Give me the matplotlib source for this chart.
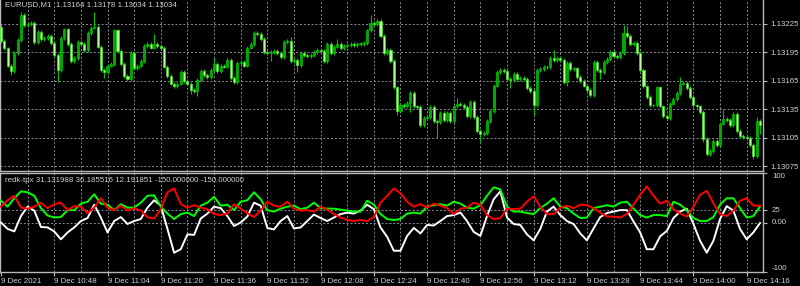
import matplotlib
matplotlib.use("Agg")
import matplotlib.pyplot as plt
import numpy as np

plt.rcParams['font.family'] = ['Liberation Sans', 'DejaVu Sans']

# EURUSD M1 closes, one per bar (bar 0 = 9 Dec 10:32)
closes = [
    1.13207, 1.13199, 1.13181, 1.13175, 1.13194, 1.13208, 1.13234, 1.13224, 1.13225, 1.13226,
    1.13206, 1.13216, 1.13209, 1.13210, 1.13212, 1.13205, 1.13192, 1.13176, 1.13210, 1.13219,
    1.13204, 1.13186, 1.13189, 1.13206, 1.13204, 1.13197, 1.13215, 1.13221, 1.13222, 1.13201,
    1.13176, 1.13174, 1.13181, 1.13183, 1.13218, 1.13196, 1.13183, 1.13170, 1.13167, 1.13194,
    1.13178, 1.13181, 1.13186, 1.13202, 1.13204, 1.13200, 1.13204, 1.13202, 1.13200, 1.13180,
    1.13170, 1.13162, 1.13159, 1.13162, 1.13174, 1.13165, 1.13162, 1.13155, 1.13154, 1.13166,
    1.13175, 1.13171, 1.13169, 1.13176, 1.13183, 1.13175, 1.13181, 1.13180, 1.13187, 1.13168,
    1.13164, 1.13184, 1.13185, 1.13181, 1.13200, 1.13204, 1.13215, 1.13214, 1.13209, 1.13195,
    1.13194, 1.13195, 1.13196, 1.13194, 1.13190, 1.13206, 1.13207, 1.13186, 1.13187, 1.13182,
    1.13194, 1.13192, 1.13191, 1.13192, 1.13195, 1.13197, 1.13196, 1.13186, 1.13204, 1.13194,
    1.13201, 1.13204, 1.13199, 1.13202, 1.13203, 1.13204, 1.13203, 1.13204, 1.13204, 1.13205,
    1.13218, 1.13226, 1.13225, 1.13228, 1.13212, 1.13194, 1.13197, 1.13186, 1.13158, 1.13133,
    1.13140, 1.13138, 1.13142, 1.13152, 1.13138, 1.13137, 1.13118, 1.13126, 1.13127, 1.13137,
    1.13123, 1.13122, 1.13131, 1.13124, 1.13131, 1.13123, 1.13138, 1.13141, 1.13140, 1.13137,
    1.13128, 1.13143, 1.13127, 1.13112, 1.13109, 1.13110, 1.13123, 1.13133, 1.13160, 1.13174,
    1.13176, 1.13175, 1.13167, 1.13166, 1.13172, 1.13167, 1.13168, 1.13167, 1.13157, 1.13154,
    1.13139, 1.13176, 1.13177, 1.13180, 1.13179, 1.13189, 1.13187, 1.13189, 1.13187, 1.13164,
    1.13184, 1.13177, 1.13178, 1.13169, 1.13165, 1.13160, 1.13155, 1.13150, 1.13185, 1.13176,
    1.13174, 1.13185, 1.13188, 1.13195, 1.13191, 1.13190, 1.13194, 1.13215, 1.13212, 1.13204,
    1.13205, 1.13194, 1.13176, 1.13159, 1.13148, 1.13139, 1.13139, 1.13158, 1.13138, 1.13128,
    1.13126, 1.13141, 1.13146, 1.13152, 1.13162, 1.13163, 1.13157, 1.13148, 1.13139, 1.13138,
    1.13132, 1.13104, 1.13088, 1.13091, 1.13102, 1.13097, 1.13120, 1.13125, 1.13124, 1.13118,
    1.13130, 1.13112, 1.13107, 1.13106, 1.13105, 1.13097, 1.13086, 1.13123, 1.13118,
]
first_open = 1.13222

# wick length beyond the body, in points
hi_wick = [
    3, 2, 2, 2, 2, 2, 3, 2, 2, 2,  2, 2, 2, 2, 2, 2, 2, 2, 2, 2,
    2, 2, 2, 2, 2, 2, 2, 2, 15, 2,  2, 2, 2, 2, 2, 2, 2, 2, 2, 2,
    2, 2, 2, 2, 2, 2, 10, 2, 2, 2,  2, 2, 2, 2, 2, 2, 2, 2, 2, 2,
    2, 2, 2, 2, 6, 2, 2, 2, 2, 2,  2, 2, 2, 2, 2, 2, 2, 2, 2, 2,
    2, 2, 2, 2, 2, 2, 2, 4, 2, 2,  2, 2, 2, 2, 2, 2, 2, 2, 2, 2,
    2, 5, 2, 2, 2, 2, 2, 2, 2, 2,  2, 8, 2, 2, 2, 2, 2, 2, 2, 2,
    2, 2, 2, 2, 2, 2, 2, 2, 2, 2,  2, 2, 2, 2, 2, 2, 2, 6, 2, 2,
    2, 2, 2, 2, 2, 2, 2, 2, 2, 2,  2, 2, 2, 2, 2, 2, 2, 2, 2, 2,
    2, 2, 2, 2, 2, 2, 8, 2, 2, 2,  2, 2, 2, 2, 2, 2, 2, 2, 2, 2,
    2, 2, 2, 2, 2, 2, 2, 9, 8, 2,  2, 2, 2, 2, 2, 2, 2, 2, 2, 2,
    2, 2, 2, 2, 7, 2, 2, 2, 2, 2,  2, 2, 2, 2, 2, 2, 2, 10, 2, 2,
    2, 2, 2, 2, 2, 2, 2, 4, 2,
]
lo_wick = [
    2, 2, 2, 4, 2, 2, 2, 2, 2, 2,  2, 2, 2, 2, 2, 2, 2, 12, 2, 2,
    2, 2, 2, 2, 2, 2, 2, 2, 2, 2,  2, 6, 2, 2, 2, 2, 2, 2, 2, 2,
    2, 2, 2, 2, 2, 2, 2, 2, 2, 2,  2, 2, 2, 2, 2, 2, 2, 4, 2, 5,
    2, 2, 2, 2, 2, 2, 2, 2, 2, 2,  2, 2, 2, 2, 2, 2, 2, 2, 2, 2,
    2, 8, 2, 2, 2, 2, 2, 2, 2, 8,  2, 2, 2, 2, 2, 2, 2, 2, 2, 2,
    2, 2, 2, 2, 2, 2, 2, 2, 2, 2,  2, 2, 2, 2, 2, 2, 2, 2, 2, 4,
    2, 2, 2, 10, 2, 2, 2, 2, 2, 2,  2, 17, 2, 2, 2, 2, 2, 2, 2, 2,
    2, 2, 2, 2, 8, 2, 2, 2, 2, 2,  2, 2, 2, 9, 2, 2, 2, 2, 2, 2,
    10, 2, 2, 2, 2, 2, 2, 2, 2, 2,  5, 2, 2, 2, 2, 2, 2, 2, 2, 2,
    7, 2, 2, 2, 2, 2, 2, 2, 2, 2,  2, 2, 2, 2, 2, 2, 2, 2, 2, 2,
    2, 2, 2, 2, 2, 2, 2, 2, 2, 2,  2, 3, 2, 2, 2, 2, 2, 2, 2, 2,
    2, 2, 2, 2, 2, 2, 3, 2, 9,
]

# redk-tpx buffers, read every second bar
ind_bars = list(range(0, 229, 2))
white_line = [
    0, -13, -18, 13, 32, 24, -9, -10, -18, -34, -20, -10, 3, 9, 36, 10, -20, 3, 11, -3,
    3, 7, 30, 45, 34, -13, -61, -54, -24, -25, 8, 18, 32, 29, 13, -7, 0, 12, 40, 34,
    -11, -14, 3, 13, -12, -10, 3, 16, 9, 3, 10, 17, 20, 18, 24, 36, 27, -10, -29, -57,
    -57, -27, -11, -22, -5, -6, 3, 13, 15, 20, 3, -19, -27, 13, 47, 63, 10, -3, -5, -24,
    -36, -13, 22, 32, 15, 3, -3, -22, -36, -12, 11, 19, 22, 25, 25, 2, -20, -54, -54, -28,
    -17, 9, 22, 28, -3, -37, -61, -37, 7, 33, 24, -13, -34, -20, -1,
]
green_line = [
    44, 32, 49, 63, 61, 54, 29, 14, 10, 11, 25, 25, 38, 42, 57, 38, 36, 25, 37, 30,
    30, 40, 54, 55, 32, 18, 7, 17, 20, 13, 34, 40, 52, 34, 36, 25, 42, 45, 61, 47,
    25, 22, 28, 32, 34, 27, 30, 40, 29, 28, 28, 26, 24, 22, 22, 44, 36, 17, 7, 5,
    7, 18, 20, 18, 32, 35, 37, 34, 42, 38, 30, 28, 35, 54, 71, 67, 32, 22, 22, 19,
    17, 29, 38, 49, 32, 29, 18, 9, 10, 29, 32, 35, 32, 40, 42, 28, 15, 10, 15, 15,
    13, 42, 36, 25, 9, 3, 3, 11, 36, 49, 49, 29, 10, 13, 32,
]
red_line = [
    32, 45, 54, 30, 28, 32, 40, 29, 37, 40, 25, 33, 32, 19, 30, 49, 30, 25, 34, 24,
    29, 24, 11, 8, 27, 61, 69, 37, 30, 35, 30, 27, 17, 15, 18, 37, 28, 19, 11, 24,
    42, 34, 32, 42, 28, 24, 25, 22, 32, 26, 17, 10, 5, 3, 5, 3, 11, 40, 54, 69,
    59, 42, 32, 37, 30, 38, 34, 29, 17, 28, 30, 40, 36, 15, 7, 9, 28, 27, 28, 42,
    53, 32, 17, 17, 30, 34, 29, 36, 35, 29, 20, 12, 12, 10, 17, 36, 56, 73, 54, 38,
    44, 27, 18, 12, 32, 56, 64, 39, 17, 13, 24, 44, 49, 34, 34,
]

price_ticks = [1.13075, 1.13105, 1.13135, 1.13165, 1.13195, 1.13225]
ind_levels = [25, 0]
ind_labels = {100: '100', 25: '25', 0: '0.00', -100: '-100'}
time_bars = list(range(0, 225, 16))
time_labels = ['9 Dec 2021', '9 Dec 10:48', '9 Dec 11:04', '9 Dec 11:20', '9 Dec 11:36',
               '9 Dec 11:52', '9 Dec 12:08', '9 Dec 12:24', '9 Dec 12:40', '9 Dec 12:56',
               '9 Dec 13:12', '9 Dec 13:28', '9 Dec 13:44', '9 Dec 14:00', '9 Dec 14:16']

W, H = 800, 286
fig = plt.figure(figsize=(W / 100, H / 100), dpi=100, facecolor='black')
ax1 = fig.add_axes([0, 1 - 171 / H, 763 / W, 171 / H])
ax2 = fig.add_axes([0, 1 - 272 / H, 763 / W, 99 / H])

grid_kw = dict(color='#8c8c9a', lw=0.7, linestyle=(0, (2, 2)), zorder=0)
txt_col = '#d0d0d0'
fs = 5.7
xlim = (-0.3, 228.9)

for ax in (ax1, ax2):
    ax.set_facecolor('black')
    ax.set_xlim(*xlim)
    for s in ax.spines.values():
        s.set_color('#b8b8b8')
        s.set_linewidth(1)
    for b in range(8, 229, 8):
        ax.axvline(b, **grid_kw)
    ax.yaxis.tick_right()
    ax.tick_params(axis='y', colors='#b8b8b8', labelcolor=txt_col, labelsize=fs,
                   length=3, pad=2)
ax1.spines['top'].set_visible(False)

# candles
x = np.arange(len(closes))
c = np.array(closes)
o = np.array([first_open] + closes[:-1])
top = np.maximum(o, c)
bot = np.minimum(o, c)
hi = top + np.array(hi_wick) * 1e-5
lo = bot - np.array(lo_wick) * 1e-5
height = np.maximum(top - bot, 0.8e-5)
up = c >= o

ax1.vlines(x, lo, hi, color='#00c000', lw=0.8, zorder=2)
ax1.bar(x[up], height[up], bottom=bot[up], width=0.62, color='#00a800',
        edgecolor='#00c400', lw=0.5, zorder=3)
ax1.bar(x[~up], height[~up], bottom=bot[~up], width=0.62, color='#b4ff98',
        edgecolor='#40e020', lw=0.5, zorder=3)

ax1.set_ylim(1.13070, 1.13250)
for p in price_ticks:
    ax1.axhline(p, **grid_kw)
ax1.set_yticks(price_ticks)
ax1.set_yticklabels(['%.5f' % p for p in price_ticks])
ax1.set_xticks([])
ax1.text(0.006, 1 - 5 / 171, 'EURUSD,M1  1.13164 1.13178 1.13034 1.13034',
         transform=ax1.transAxes, color=txt_col, fontsize=fs, va='center', ha='left')

# indicator window
ax2.set_ylim(-100, 100)
for lv in ind_levels:
    ax2.axhline(lv, **grid_kw)
ax2.plot(ind_bars, white_line, color='white', lw=1.4, zorder=3, solid_joinstyle='round')
ax2.plot(ind_bars, green_line, color='#00ff00', lw=1.4, zorder=3, solid_joinstyle='round')
ax2.plot(ind_bars, red_line, color='#ff0000', lw=1.4, zorder=3, solid_joinstyle='round')
ax2.set_yticks(list(ind_labels.keys()))
ax2.set_yticklabels([])
ytr = ax2.get_yaxis_transform()
for v, lab in ind_labels.items():
    va = 'top' if v == 100 else ('bottom' if v == -100 else 'center')
    ax2.text(1.012, v, lab, transform=ytr, color=txt_col, fontsize=fs,
             va=va, ha='left', clip_on=False)
ax2.text(0.006, 1 - 8 / 99, 'redk-tpx 31.131988 36.185516 12.191851 -150.000000 -150.000000',
         transform=ax2.transAxes, color=txt_col, fontsize=fs, va='center', ha='left')

ax2.set_xticks(time_bars)
ax2.set_xticklabels(time_labels, ha='left')
ax2.tick_params(axis='x', colors='#b8b8b8', labelcolor=txt_col, labelsize=fs,
                length=3, pad=1.5)

fig.savefig('out.png', dpi=100, facecolor='black')
